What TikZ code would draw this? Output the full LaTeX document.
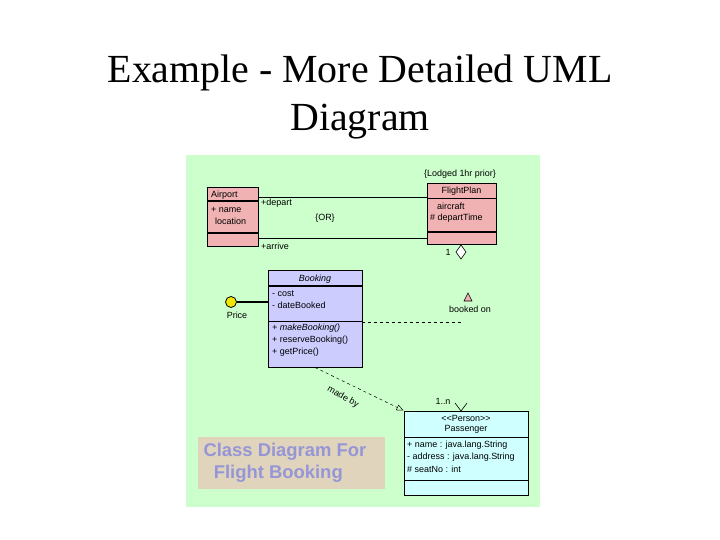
\documentclass[tikz,border=0pt]{standalone}
\usepackage{fontspec}
\setmainfont{Liberation Serif}
\setsansfont{Liberation Sans}
\usetikzlibrary{arrows.meta}

\definecolor{panelgreen}{RGB}{204,255,204}
\definecolor{classpink}{RGB}{240,178,178}
\definecolor{classlilac}{RGB}{204,204,255}
\definecolor{classcyan}{RGB}{208,255,255}
\definecolor{notetan}{RGB}{224,212,188}
\definecolor{notetext}{RGB}{150,150,215}
\definecolor{priceyellow}{RGB}{240,232,0}

\tikzset{
  classbox/.style={draw,line width=1bp,inner sep=0},
  uml/.style={font=\sffamily\fontsize{9}{10}\selectfont,inner sep=0},
  umlit/.style={uml,font=\sffamily\itshape\fontsize{9}{10}\selectfont},
  sepline/.style={line width=0.8bp},
  septhick/.style={line width=1.8bp},
}

\begin{document}
\begin{tikzpicture}[x=1bp,y=-1bp]
\useasboundingbox (0,0) rectangle (720,540);
% title
\node[font=\fontsize{40}{48}\selectfont,align=center] (title) at (360,97) {Example - More Detailed UML\\Diagram};
% panel
\fill[panelgreen] (186,155) rectangle (540,507);

% classes
\node[classbox,fill=classpink,minimum width=51bp,minimum height=58bp] (airport) at (232.5,217) {};
\draw[septhick] (207,201) -- (258,201); \draw[septhick] (207,233) -- (258,233);
\node[uml,anchor=west] (airportname) at (211,195) {Airport};
\node[uml,anchor=west] (airporta1) at (211,210) {+ name};
\node[uml,anchor=west] (airporta2) at (215,221) {location};

\node[classbox,fill=classpink,minimum width=69bp,minimum height=60bp] (flightplan) at (461.5,214) {};
\draw[sepline] (427,198) -- (496,198); \draw[septhick] (427,232) -- (496,232);
\node[uml] (flightplanname) at (461.5,191) {FlightPlan};
\node[uml,anchor=west] (flightplana1) at (437,206) {aircraft};
\node[uml,anchor=west] (flightplana2) at (430,218) {\# departTime};
\node[uml] (lodged) at (460,174) {\{Lodged 1hr prior\}};

\node[classbox,fill=classlilac,minimum width=94bp,minimum height=96bp] (booking) at (315,319) {};
\draw[septhick] (268,286) -- (362,286); \draw[sepline] (268,321) -- (362,321);
\node[umlit] (bookingname) at (315,279) {Booking};
\node[uml,anchor=west] (bookinga1) at (272,294) {- cost};
\node[uml,anchor=west] (bookinga2) at (272,305) {- dateBooked};
\node[umlit,anchor=west] (bookingo1) at (272,328) {+ makeBooking()};
\node[uml,anchor=west] (bookingo2) at (272,340) {+ reserveBooking()};
\node[uml,anchor=west] (bookingo3) at (272,352) {+ getPrice()};

\node[classbox,fill=classcyan,minimum width=124bp,minimum height=84bp] (passenger) at (466,453) {};
\draw[sepline] (404,437) -- (528,437); \draw[sepline] (404,480) -- (528,480);
\node[uml,align=center] (passengername) at (466,424) {{<}{<}Person{>}{>}\\Passenger};
\node[uml,anchor=west] (passengera1) at (407,445) {+ name : java.lang.String};
\node[uml,anchor=west] (passengera2) at (407,457) {- address : java.lang.String};
\node[uml,anchor=west] (passengera3) at (407,469) {\# seatNo : int};

% airport -- flight plan
\draw[sepline] (airport.east |- 0,197) -- (flightplan.west |- 0,197);
\draw[sepline] (airport.east |- 0,238) -- (flightplan.west |- 0,238);
\node[uml,anchor=west] (departlbl) at (261,203) {+depart};
\node[uml] (orlbl) at (325,218) {\{OR\}};
\node[uml,anchor=west] (arrivelbl) at (261,246) {+arrive};

% booked on
\draw[line width=0.6bp,fill=white] (461,245) -- (466,252) -- (461,259) -- (456,252) -- cycle;
\node[uml] (onelbl) at (448,252) {1};
\coordinate (assoc) at (461,322);
\draw[line width=0.6bp,fill=classpink] (464,301) -- (468,293) -- (472,301) -- cycle;
\node[uml] (bookedon) at (470,309) {booked on};
\draw[sepline,dashed] (booking.east |- assoc) -- (assoc);
\draw[line width=0.6bp] (455,403) -- (461,411) -- (467,403);
\node[uml] (manylbl) at (443,401) {1..n};

% price interface
\node[circle,draw,line width=0.8bp,fill=priceyellow,minimum size=11bp,inner sep=0] (price) at (231,302) {};
\draw[septhick] (price.east) -- (price.east -| booking.west);
\node[uml] (pricelbl) at (237,315) {Price};

% made by
\draw[line width=0.5bp,dashed,-{Triangle[open,length=7bp,width=6bp]}] (booking.south) -- (passenger.north west);
\node[uml,rotate=-30] (madeby) at (343,397) {made by};

% caption note
\node[fill=notetan,minimum width=187bp,minimum height=52bp,inner sep=0] (note) at (291.5,463) {};
\node[font=\sffamily\bfseries\fontsize{18.5}{22}\selectfont,text=notetext,align=left,anchor=west] (notetext) at (200,463) {Class Diagram For\\\ \ Flight Booking};
\end{tikzpicture}
\end{document}
